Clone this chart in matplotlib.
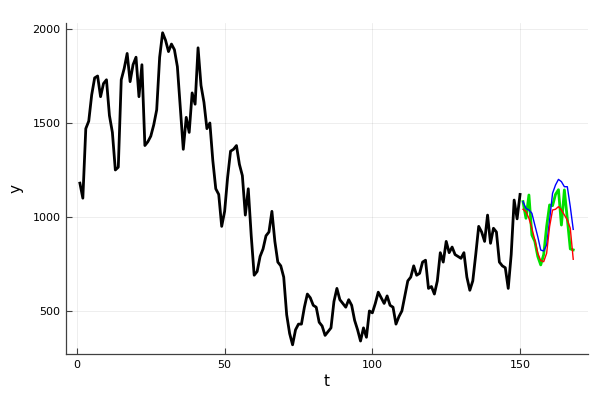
import numpy as np
import matplotlib
matplotlib.use("Agg")
from matplotlib import pyplot as plt

# observed series, t = 1..150
y_obs = [1180, 1100, 1470, 1510, 1650, 1740, 1750, 1640, 1710, 1730,
         1540, 1450, 1250, 1265, 1730, 1790, 1870, 1720, 1810, 1850,
         1640, 1810, 1380, 1400, 1430, 1490, 1570, 1850, 1980, 1940,
         1880, 1920, 1890, 1800, 1580, 1360, 1530, 1450, 1660, 1600,
         1900, 1700, 1610, 1470, 1500, 1300, 1150, 1120, 950, 1030,
         1210, 1350, 1360, 1380, 1280, 1220, 1010, 1150, 900, 690,
         710, 790, 830, 900, 920, 1030, 870, 760, 740, 680,
         480, 380, 320, 400, 430, 430, 520, 590, 570, 530,
         520, 440, 420, 370, 390, 410, 550, 620, 560, 540,
         520, 560, 530, 450, 400, 340, 410, 360, 500, 490,
         540, 600, 570, 540, 580, 530, 520, 430, 470, 500,
         580, 660, 680, 740, 690, 700, 760, 770, 620, 630,
         590, 660, 810, 760, 870, 810, 840, 800, 790, 780,
         810, 680, 610, 660, 800, 950, 920, 870, 1010, 860,
         940, 920, 760, 740, 730, 620, 800, 1090, 990, 1120]
t_obs = np.arange(1, len(y_obs) + 1)

# forecasts, t = 151..168
t_fc = np.arange(151, 169)
y_blue = [1082, 1046, 1037, 1020, 957, 895, 824, 819, 851, 984,
          1126, 1170, 1200, 1188, 1161, 1161, 1055, 934]
y_red = [1041, 1028, 993, 940, 878, 807, 768, 762, 807, 949,
         1037, 1041, 1055, 1037, 1011, 984, 940, 775]
y_green = [1082, 993, 1117, 904, 870, 790, 745, 800, 950, 1064,
           1060, 1120, 1145, 957, 1144, 990, 830, 825]

fig = plt.figure(figsize=(6, 4), dpi=100)
ax = fig.add_axes([0.11, 0.115, 0.87, 0.8275])

ax.plot(t_obs, y_obs, color='black', lw=2)
ax.plot(t_fc, y_green, color='#00e000', lw=2)
ax.plot(t_fc, y_blue, color='blue', lw=1)
ax.plot(t_fc, y_red, color='red', lw=1)

ax.set_xlim(-3.7, 173)
ax.set_ylim(271, 2032)
ax.set_xticks([0, 50, 100, 150])
ax.set_yticks([500, 1000, 1500, 2000])
ax.grid(True, color='#000000', alpha=0.08, lw=0.6)
ax.set_axisbelow(True)

for s in ['top', 'right']:
    ax.spines[s].set_visible(False)
for s in ['left', 'bottom']:
    ax.spines[s].set_color('#404040')
    ax.spines[s].set_linewidth(0.9)
ax.tick_params(direction='in', length=4, width=0.8, color='#404040',
               labelsize=8, labelcolor='black', pad=4)

ax.set_xlabel('t', fontsize=11, labelpad=3)
ax.set_ylabel('y', fontsize=11, labelpad=6)

fig.savefig('out.png', dpi=100)
